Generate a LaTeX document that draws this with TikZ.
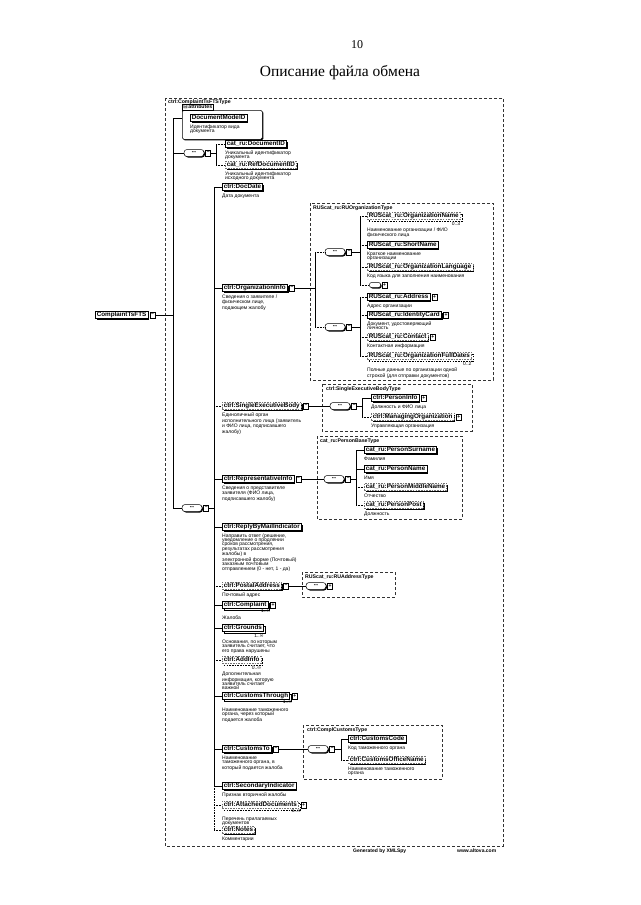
\documentclass[tikz,border=0pt]{standalone}
\usepackage{fontspec}
\setmainfont{Liberation Serif}
\newfontfamily\xsans{Liberation Sans}
\newfontfamily\xsym{DejaVu Sans}
\usetikzlibrary{positioning,shadows}
\newcommand{\elfont}{\xsans\bfseries\fontsize{6.3}{7}\selectfont}
\newcommand{\docfont}{\xsans\fontsize{5}{4.3}\selectfont}
\newcommand{\ttlfont}{\xsans\bfseries\fontsize{5.2}{6}\selectfont}
\tikzset{
  elem/.style={draw, line width=0.5pt, fill=white, font=\elfont, anchor=west,
    inner xsep=1.5pt, inner ysep=0.9pt, text height=4.4pt, text depth=1.2pt,
    drop shadow={shadow xshift=1.3pt, shadow yshift=-1.3pt, fill=black, opacity=1}},
  optelem/.style={elem, draw=black!55, dash pattern=on 1.6pt off 1.1pt},
  multi/.style={copy shadow={shadow xshift=1.6pt, shadow yshift=-1.6pt, draw=black, fill=white}},
  doc/.style={font=\docfont, anchor=north west, align=left, inner sep=0pt},
  card/.style={font=\docfont, anchor=north east, inner sep=0pt},
  xbox/.style={draw, line width=0.4pt, fill=white, minimum width=5pt, minimum height=5.5pt,
    inner sep=0pt, font=\xsans\bfseries\fontsize{5}{5}\selectfont},
  seqsym/.style={draw, line width=0.5pt, fill=white, rounded corners=3pt, minimum width=20pt,
    minimum height=7pt, inner sep=0pt, font=\xsans\fontsize{4}{4}\selectfont,
    drop shadow={shadow xshift=1pt, shadow yshift=-1pt, fill=black, opacity=1}},
  attrbox/.style={draw, line width=0.5pt, fill=white, rounded corners=1.5pt, anchor=north west,
    drop shadow={shadow xshift=1pt, shadow yshift=-1pt, fill=black, opacity=1}},
  attrtab/.style={draw, line width=0.5pt, fill=white, font=\ttlfont, inner sep=1pt, anchor=south west},
  typeframe/.style={draw=black!80, line width=0.5pt, dash pattern=on 3pt off 2pt},
  ttl/.style={font=\ttlfont, anchor=north west, inner sep=0pt},
  link/.style={line width=0.6pt},
  optlink/.style={line width=0.6pt, dash pattern=on 0.8pt off 0.8pt},
  footer/.style={font=\xsans\bfseries\fontsize{5}{6}\selectfont, anchor=west, inner sep=0pt}
}
\begin{document}
\begin{tikzpicture}[x=1pt, y=-1pt]
\useasboundingbox (0,0) rectangle (640,905);
\fill[white] (0,0) rectangle (640,905);
\node[font=\fontsize{12}{14}\selectfont] (pagenum) at (357,45) {10};
\node[font=\fontsize{15.5}{18}\selectfont] (pagetitle) at (340,73) {Описание файла обмена};

% complex type of the root element
\draw[typeframe] (165,98) rectangle (503,846);
\node[ttl] (maintype) at (168,100) {ctrl:ComplaintTsFTSType};
\node[elem] (root) at (95,315) {ComplaintTsFTS};
\node[xbox, right=1.8pt of root] (rootx) {–};
\coordinate (trunk) at (173,315);
\coordinate (ttop) at (173,118);
\coordinate (tbot) at (173,508);
\draw[link] (rootx) -- (trunk);
\draw[link] (ttop) -- (tbot);

% attributes
\node[attrbox, minimum width=80pt, minimum height=29pt] (attrs) at (182,110) {};
\node[attrtab] (attrtab) at (attrs.north west) {{\xsym ⊟}\,attributes};
\draw[link] (ttop) -- (ttop -| attrs.west);
\node[elem] (docmode) at (190,118) {DocumentModeID};
\node[doc] (docmoded) at ([yshift=-2.5pt]docmode.south west) {Идентификатор вида\\документа};

% document identifiers
\node[seqsym] (choice1) at (194,153) {•••};
\node[xbox, right=1.2pt of choice1] (choice1x) {–};
\coordinate (b1) at (216,153);
\draw[link] (choice1.west -| ttop) -- (choice1);
\draw[link] (choice1x) -- (b1);
\node[elem] (docid) at (225,144) {cat\_ru:DocumentID};
\node[doc] (docidd) at ([yshift=-2.5pt]docid.south west) {Уникальный идентификатор\\документа};
\node[optelem] (refdocid) at (225,165) {cat\_ru:RefDocumentID};
\node[doc] (refdocidd) at ([yshift=-2.5pt]refdocid.south west) {Уникальный идентификатор\\исходного документа};
\draw[link] (docid.west -| b1) -- (refdocid.west -| b1);
\draw[optlink] (docid.west -| b1) -- (docid);
\draw[optlink] (refdocid.west -| b1) -- (refdocid);

% main sequence
\node[seqsym] (seqmain) at (192,508) {•••};
\node[xbox, right=1.2pt of seqmain] (seqmainx) {–};
\coordinate (b2) at (214,508);
\draw[link] (tbot) -- (seqmain);
\draw[link] (seqmainx) -- (b2);

\node[elem] (docdate) at (222,187) {ctrl:DocDate};
\node[doc] (docdated) at ([yshift=-2.5pt]docdate.south west) {Дата документа};

\node[elem] (orginfo) at (222,288) {ctrl:OrganizationInfo};
\node[xbox, right=1.8pt of orginfo] (orginfox) {–};
\node[doc] (orginfod) at ([yshift=-2.5pt]orginfo.south west) {Сведения о заявителе /\\физическом лице,\\подающем жалобу};

\node[optelem] (singleexec) at (222,406) {ctrl:SingleExecutiveBody};
\node[xbox, right=1.8pt of singleexec] (singleexecx) {–};
\node[doc] (singleexecd) at ([yshift=-2.5pt]singleexec.south west) {Единоличный орган\\исполнительного лица (заявитель\\и ФИО лица, подписавшего\\жалобу)};

\node[elem] (repinfo) at (222,479) {ctrl:RepresentativeInfo};
\node[xbox, right=1.8pt of repinfo] (repinfox) {–};
\node[doc] (repinfod) at ([yshift=-2.5pt]repinfo.south west) {Сведения о представителе\\заявителя (ФИО лица,\\подписавшего жалобу)};

\node[elem] (replymail) at (222,527) {ctrl:ReplyByMailIndicator};
\node[doc] (replymaild) at ([yshift=-2.5pt]replymail.south west) {Направить ответ (решение,\\уведомление о продлении\\сроков рассмотрения,\\результатах рассмотрения\\жалобы) в\\электронной форме (Почтовый)\\заказным почтовым\\отправлением (0 - нет, 1 - да)};

\node[optelem] (postaddr) at (222,586) {ctrl:PostalAddress};
\node[xbox, right=1.8pt of postaddr] (postaddrx) {–};
\node[doc] (postaddrd) at ([yshift=-2.5pt]postaddr.south west) {Почтовый адрес};

\node[elem, multi] (complaint) at (222,605) {ctrl:Complaint};
\node[xbox, right=2.2pt of complaint] (complaintx) {+};
\node[card] (complaintc) at ([yshift=-0.8pt]complaintx.south west) {1..∞};
\node[doc] (complaintd) at ([yshift=-7pt]complaint.south west) {Жалоба};

\node[elem, multi] (grounds) at (222,628) {ctrl:Grounds};
\node[card] (groundsc) at ([yshift=-2pt]grounds.south east) {1..∞};
\node[doc] (groundsd) at ([yshift=-8pt]grounds.south west) {Основания, по которым\\заявитель считает, что\\его права нарушены};

\node[optelem, multi] (addinfo) at (222,660) {ctrl:AddInfo};
\node[card] (addinfoc) at ([yshift=-2pt]addinfo.south east) {0..∞};
\node[doc] (addinfod) at ([yshift=-8pt]addinfo.south west) {Дополнительная\\информация, которую\\заявитель считает\\важной};

\node[elem, multi] (custthrough) at (222,696) {ctrl:CustomsThrough};
\node[xbox, right=2.2pt of custthrough] (custthroughx) {+};
\node[card] (custthroughc) at ([yshift=-0.8pt]custthroughx.south west) {1..∞};
\node[doc] (custthroughd) at ([yshift=-8pt]custthrough.south west) {Наименование таможенного\\органа, через который\\подается жалоба};

\node[elem] (customsto) at (222,749) {ctrl:CustomsTo};
\node[xbox, right=1.8pt of customsto] (customstox) {–};
\node[doc] (customstod) at ([yshift=-2.5pt]customsto.south west) {Наименование\\таможенного органа, в\\который подается жалоба};

\node[elem] (secondary) at (222,786) {ctrl:SecondaryIndicator};
\node[doc] (secondaryd) at ([yshift=-2.5pt]secondary.south west) {Признак вторичной жалобы};

\node[optelem, multi] (attached) at (222,805) {ctrl:AttachedDocuments};
\node[xbox, right=2.2pt of attached] (attachedx) {+};
\node[card] (attachedc) at ([yshift=-0.8pt]attachedx.south west) {0..∞};
\node[doc] (attachedd) at ([yshift=-8pt]attached.south west) {Перечень прилагаемых\\документов};

\node[optelem] (notes) at (222,830) {ctrl:Notes};
\node[doc] (notesd) at ([yshift=-2.5pt]notes.south west) {Комментарии};

\draw[link] (docdate.west -| b2) -- (secondary.west -| b2);
\draw[optlink] (secondary.west -| b2) -- (notes.west -| b2);
\draw[link] (docdate.west -| b2) -- (docdate);
\draw[link] (orginfo.west -| b2) -- (orginfo);
\draw[optlink] (singleexec.west -| b2) -- (singleexec);
\draw[link] (repinfo.west -| b2) -- (repinfo);
\draw[link] (replymail.west -| b2) -- (replymail);
\draw[optlink] (postaddr.west -| b2) -- (postaddr);
\draw[link] (complaint.west -| b2) -- (complaint);
\draw[link] (grounds.west -| b2) -- (grounds);
\draw[optlink] (addinfo.west -| b2) -- (addinfo);
\draw[link] (custthrough.west -| b2) -- (custthrough);
\draw[link] (customsto.west -| b2) -- (customsto);
\draw[link] (secondary.west -| b2) -- (secondary);
\draw[optlink] (attached.west -| b2) -- (attached);
\draw[optlink] (notes.west -| b2) -- (notes);

% organization type
\draw[typeframe] (310,203) rectangle (493,380);
\node[ttl] (orgtype) at (313,206) {RUScat\_ru:RUOrganizationType};
\coordinate (b3) at (315,288);
\draw[link] (orginfox) -- (b3);
\node[seqsym] (orgchoicea) at (335,252) {•••};
\node[xbox, right=1.2pt of orgchoicea] (orgchoiceax) {–};
\node[seqsym] (orgchoiceb) at (335,327) {•••};
\node[xbox, right=1.2pt of orgchoiceb] (orgchoicebx) {–};
\draw[link] (orgchoicea.west -| b3) -- (orgchoiceb.west -| b3);
\draw[optlink] (orgchoicea.west -| b3) -- (orgchoicea);
\draw[optlink] (orgchoiceb.west -| b3) -- (orgchoiceb);

\coordinate (b4) at (360,252);
\draw[link] (orgchoiceax) -- (b4);
\node[optelem, multi] (orgname) at (367,216) {RUScat\_ru:OrganizationName};
\node[card] (orgnamec) at ([yshift=-2pt]orgname.south east) {0..3};
\node[doc] (orgnamed) at ([yshift=-7.5pt]orgname.south west) {Наименование организации / ФИО\\физического лица};
\node[elem] (shortname) at (367,245) {RUScat\_ru:ShortName};
\node[doc] (shortnamed) at ([yshift=-2.5pt]shortname.south west) {Краткое наименование\\организации};
\node[optelem] (orglang) at (367,267) {RUScat\_ru:OrganizationLanguage};
\node[doc] (orglangd) at ([yshift=-2.5pt]orglang.south west) {Код языка для заполнения наименования};
\node[seqsym, minimum width=11pt, minimum height=5pt, rounded corners=2pt] (organy) at (375,285) {};
\node[xbox, right=1.2pt of organy] (organyx) {+};
\draw[link] (orgname.west -| b4) -- (organy.west -| b4);
\draw[optlink] (orgname.west -| b4) -- (orgname);
\draw[optlink] (shortname.west -| b4) -- (shortname);
\draw[optlink] (orglang.west -| b4) -- (orglang);
\draw[optlink] (organy.west -| b4) -- (organy);

\coordinate (b5) at (360,327);
\draw[link] (orgchoicebx) -- (b5);
\node[elem] (address) at (367,297) {RUScat\_ru:Address};
\node[xbox, right=1.8pt of address] (addressx) {+};
\node[doc] (addressd) at ([yshift=-2.5pt]address.south west) {Адрес организации};
\node[elem] (identity) at (367,315) {RUScat\_ru:IdentityCard};
\node[xbox, right=1.8pt of identity] (identityx) {+};
\node[doc] (identityd) at ([yshift=-2.5pt]identity.south west) {Документ, удостоверяющий\\личность};
\node[optelem] (contact) at (367,337) {RUScat\_ru:Contact};
\node[xbox, right=1.8pt of contact] (contactx) {+};
\node[doc] (contactd) at ([yshift=-2.5pt]contact.south west) {Контактная информация};
\node[optelem, multi] (fulldates) at (367,356) {RUScat\_ru:OrganizationFullDates};
\node[card] (fulldatesc) at ([yshift=-2pt]fulldates.south east) {0..2};
\node[doc] (fulldatesd) at ([yshift=-7.5pt]fulldates.south west) {Полные данные по организации одной\\строкой (для отправки документов)};
\draw[link] (address.west -| b5) -- (fulldates.west -| b5);
\draw[optlink] (address.west -| b5) -- (address);
\draw[optlink] (identity.west -| b5) -- (identity);
\draw[optlink] (contact.west -| b5) -- (contact);
\draw[optlink] (fulldates.west -| b5) -- (fulldates);

% single executive body type
\draw[typeframe] (322,384) rectangle (472,431);
\node[ttl] (sebtype) at (326,387) {ctrl:SingleExecutiveBodyType};
\node[seqsym] (sebseq) at (340,406) {•••};
\node[xbox, right=1.2pt of sebseq] (sebseqx) {–};
\draw[link] (singleexecx) -- (sebseq);
\coordinate (b6) at (362,406);
\draw[link] (sebseqx) -- (b6);
\node[elem] (personinfo) at (371,398) {ctrl:PersonInfo};
\node[xbox, right=1.8pt of personinfo] (personinfox) {+};
\node[doc] (personinfod) at ([yshift=-2.5pt]personinfo.south west) {Должность и ФИО лица};
\node[optelem] (managorg) at (371,417) {ctrl:ManagingOrganization};
\node[xbox, right=1.8pt of managorg] (managorgx) {+};
\node[doc] (managorgd) at ([yshift=-2.5pt]managorg.south west) {Управляющая организация};
\draw[link] (personinfo.west -| b6) -- (managorg.west -| b6);
\draw[link] (personinfo.west -| b6) -- (personinfo);
\draw[optlink] (managorg.west -| b6) -- (managorg);

% person base type
\draw[typeframe] (317,436) rectangle (462,519);
\node[ttl] (pbtype) at (320,439) {cat\_ru:PersonBaseType};
\node[seqsym] (pbseq) at (334,479) {•••};
\node[xbox, right=1.2pt of pbseq] (pbseqx) {–};
\draw[link] (repinfox) -- (pbseq);
\coordinate (b7) at (356,479);
\draw[link] (pbseqx) -- (b7);
\node[elem] (surname) at (364,450) {cat\_ru:PersonSurname};
\node[doc] (surnamed) at ([yshift=-2.5pt]surname.south west) {Фамилия};
\node[elem] (pname) at (364,469) {cat\_ru:PersonName};
\node[doc] (pnamed) at ([yshift=-2.5pt]pname.south west) {Имя};
\node[optelem] (middlename) at (364,487) {cat\_ru:PersonMiddleName};
\node[doc] (middlenamed) at ([yshift=-2.5pt]middlename.south west) {Отчество};
\node[optelem] (ppost) at (364,505) {cat\_ru:PersonPost};
\node[doc] (ppostd) at ([yshift=-2.5pt]ppost.south west) {Должность};
\draw[link] (surname.west -| b7) -- (ppost.west -| b7);
\draw[link] (surname.west -| b7) -- (surname);
\draw[link] (pname.west -| b7) -- (pname);
\draw[optlink] (middlename.west -| b7) -- (middlename);
\draw[optlink] (ppost.west -| b7) -- (ppost);

% address type
\draw[typeframe] (302,572) rectangle (395,597);
\node[ttl] (addrtype) at (305,575) {RUScat\_ru:RUAddressType};
\node[seqsym] (addrseq) at (316,586) {•••};
\node[xbox, right=1.2pt of addrseq] (addrseqx) {+};
\draw[link] (postaddrx) -- (addrseq);

% customs type
\draw[typeframe] (303,725) rectangle (442,779);
\node[ttl] (cctype) at (307,728) {ctrl:ComplCustomsType};
\node[seqsym] (ccseq) at (318,749) {•••};
\node[xbox, right=1.2pt of ccseq] (ccseqx) {–};
\draw[link] (customstox) -- (ccseq);
\coordinate (b8) at (341,749);
\draw[link] (ccseqx) -- (b8);
\node[elem] (custcode) at (348,739) {ctrl:CustomsCode};
\node[doc] (custcoded) at ([yshift=-2.5pt]custcode.south west) {Код таможенного органа};
\node[optelem] (custoffice) at (348,760) {ctrl:CustomsOfficeName};
\node[doc] (custofficed) at ([yshift=-2.5pt]custoffice.south west) {Наименование таможенного\\органа};
\draw[link] (custcode.west -| b8) -- (custoffice.west -| b8);
\draw[link] (custcode.west -| b8) -- (custcode);
\draw[optlink] (custoffice.west -| b8) -- (custoffice);

\node[footer] (generated) at (353,851) {Generated by XMLSpy};
\node[footer] (altova) at (457,851) {www.altova.com};
\end{tikzpicture}
\end{document}
